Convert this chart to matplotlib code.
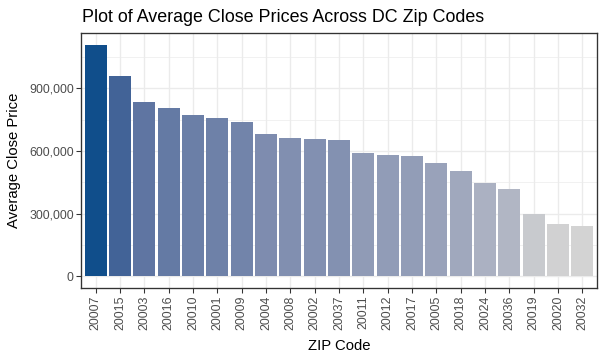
import numpy as np
import matplotlib
matplotlib.use("Agg")
import matplotlib.pyplot as plt
from matplotlib.ticker import FuncFormatter, MultipleLocator

zip_codes = ["20007", "20015", "20003", "20016", "20010", "20001", "20009",
             "20004", "20008", "20002", "20037", "20011", "20012", "20017",
             "20005", "20018", "20024", "20036", "20019", "20020", "20032"]
avg_close = [1110000, 962000, 833000, 805000, 771000, 757000, 738000,
             681000, 662000, 657000, 652000, 590000, 581000, 576000,
             543000, 505000, 448000, 419000, 300000, 252000, 243000]

plt.rcParams["font.family"] = ["Liberation Sans", "DejaVu Sans"]


# ggplot style gradient: interpolate lightgray -> dodgerblue4 in CIELAB
def srgb_to_lab(rgb):
    c = np.array(rgb, dtype=float)
    c = np.where(c <= 0.04045, c / 12.92, ((c + 0.055) / 1.055) ** 2.4)
    m = np.array([[0.4124, 0.3576, 0.1805],
                  [0.2126, 0.7152, 0.0722],
                  [0.0193, 0.1192, 0.9505]])
    xyz = m @ c / np.array([0.95047, 1.0, 1.08883])
    f = np.where(xyz > 0.008856, np.cbrt(xyz), 7.787 * xyz + 16 / 116)
    return np.array([116 * f[1] - 16, 500 * (f[0] - f[1]), 200 * (f[1] - f[2])])


def lab_to_srgb(lab):
    L, a, b = lab
    fy = (L + 16) / 116
    fx = fy + a / 500
    fz = fy - b / 200
    f = np.array([fx, fy, fz])
    xyz = np.where(f ** 3 > 0.008856, f ** 3, (f - 16 / 116) / 7.787)
    xyz = xyz * np.array([0.95047, 1.0, 1.08883])
    m = np.array([[3.2406, -1.5372, -0.4986],
                  [-0.9689, 1.8758, 0.0415],
                  [0.0557, -0.2040, 1.0570]])
    c = m @ xyz
    c = np.where(c <= 0.0031308, 12.92 * c, 1.055 * np.clip(c, 0, None) ** (1 / 2.4) - 0.055)
    return np.clip(c, 0, 1)


low = srgb_to_lab(matplotlib.colors.to_rgb("#D3D3D3"))
high = srgb_to_lab(matplotlib.colors.to_rgb("#104E8B"))
vals = np.array(avg_close, dtype=float)
t = (vals - vals.min()) / (vals.max() - vals.min())
colors = [lab_to_srgb(low + ti * (high - low)) for ti in t]

fig = plt.figure(figsize=(604 / 96, 357 / 96), dpi=96)
ax = fig.add_axes([81 / 604, 1 - 288 / 357, (597 - 81) / 604, (288 - 33) / 357])

x = np.arange(len(zip_codes))
ax.bar(x, avg_close, width=0.9, color=colors, zorder=3)

ymax = vals.max()
ax.set_ylim(-0.05 * ymax, 1.05 * ymax)
ax.set_xlim(-0.6, len(zip_codes) - 1 + 0.6)

ax.yaxis.set_major_locator(MultipleLocator(300000))
ax.yaxis.set_minor_locator(MultipleLocator(150000))
ax.yaxis.set_major_formatter(FuncFormatter(lambda v, p: f"{int(v):,}"))
ax.set_xticks(x)
ax.set_xticklabels(zip_codes, rotation=90)

ax.grid(which="major", color="#EBEBEB", linewidth=1.0, zorder=0)
ax.grid(which="minor", axis="y", color="#EBEBEB", linewidth=0.5, zorder=0)
ax.set_axisbelow(True)
for s in ax.spines.values():
    s.set_color("#333333")
    s.set_linewidth(1.0)

ax.tick_params(which="major", length=3.5, width=0.8, color="#333333",
               labelcolor="#4D4D4D", labelsize=9.3, pad=2)
ax.tick_params(which="minor", length=0)

ax.set_xlabel("ZIP Code", fontsize=11.2, color="black", labelpad=7)
ax.set_ylabel("Average Close Price", fontsize=11.2, color="black", labelpad=6)
fig.text(82 / 604, 1 - 22 / 357, "Plot of Average Close Prices Across DC Zip Codes",
         fontsize=13.4, color="black", ha="left", va="baseline")

fig.savefig("out.png", dpi=96)
